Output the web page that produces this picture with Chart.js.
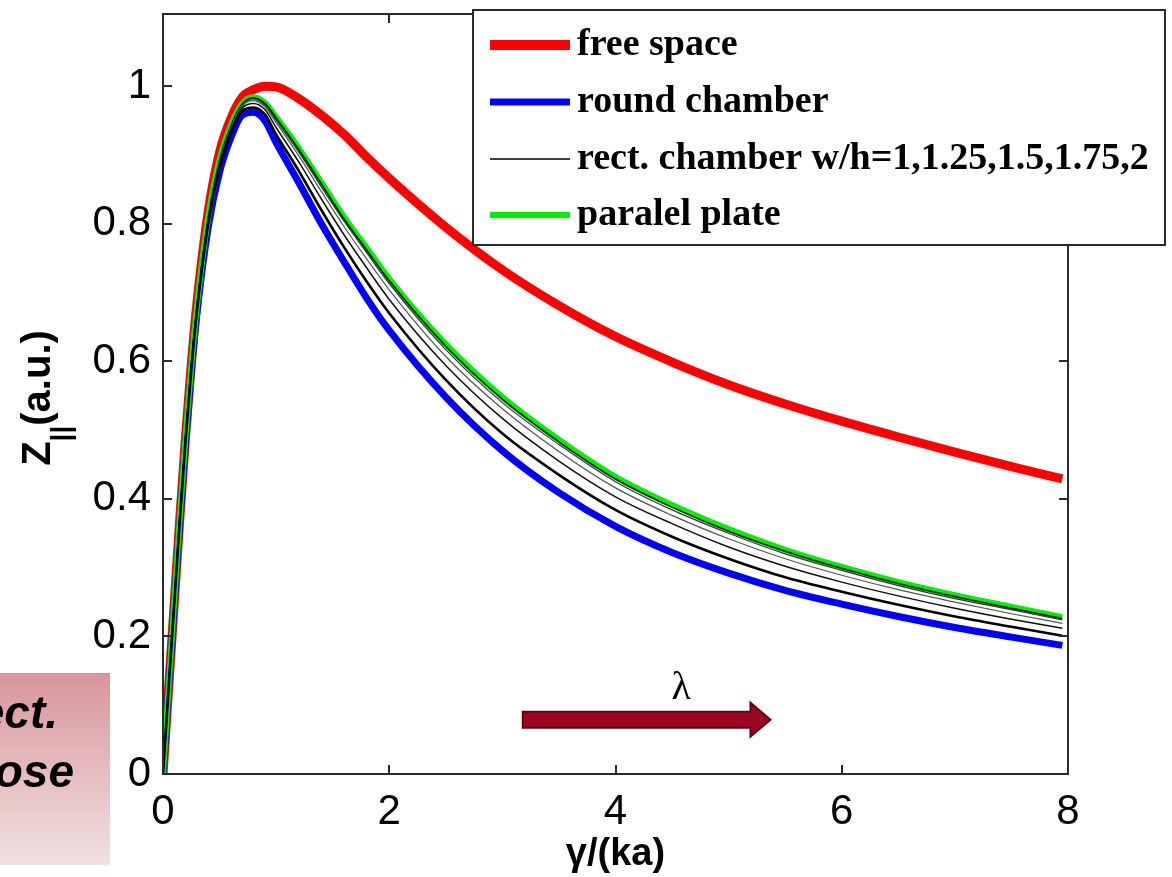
<!DOCTYPE html>
<html>
<head>
<meta charset="utf-8">
<script src="https://cdn.jsdelivr.net/npm/chart.js@4.4.1/dist/chart.umd.min.js"></script>
<style>
  body { margin: 0; background: #fff; }
  #wrap { width: 1172px; height: 877px; }
</style>
</head>
<body>
<div id="wrap"><canvas id="js-impedance-chart" width="1172" height="877"></canvas></div>
<script>
// gamma/(ka) sample points shared by every curve
const gammaOverKa = [0, 0.05, 0.1, 0.15, 0.2, 0.25, 0.3, 0.4, 0.5, 0.6, 0.7, 0.8, 0.9, 1.0, 1.2, 1.4, 1.6, 1.8, 2.0, 2.5, 3.0, 3.5, 4.0, 4.5, 5.0, 5.5, 6.0, 6.5, 7.0, 7.5, 7.95];

// Z|| (a.u.) for each geometry
const freeSpace = [0, 0.125, 0.25, 0.375, 0.492, 0.596, 0.685, 0.818, 0.904, 0.953, 0.984, 0.995, 1.0, 0.999, 0.982, 0.958, 0.930, 0.897, 0.866, 0.795, 0.733, 0.681, 0.636, 0.599, 0.566, 0.538, 0.513, 0.490, 0.468, 0.447, 0.429];
const roundChamber = [0, 0.125, 0.248, 0.37, 0.484, 0.585, 0.67, 0.795, 0.875, 0.925, 0.958, 0.962, 0.95, 0.918, 0.86, 0.80, 0.745, 0.692, 0.645, 0.548, 0.470, 0.409, 0.36, 0.322, 0.292, 0.267, 0.247, 0.229, 0.213, 0.199, 0.187];
const parallelPlate = [0, 0.127, 0.252, 0.377, 0.492, 0.594, 0.68, 0.81, 0.893, 0.943, 0.975, 0.984, 0.976, 0.955, 0.91, 0.86, 0.81, 0.765, 0.72, 0.625, 0.548, 0.486, 0.432, 0.391, 0.356, 0.326, 0.301, 0.279, 0.26, 0.243, 0.228];

// rectangular chamber, one curve per aspect ratio w/h
const rectAspect = ['1', '1.25', '1.5', '1.75', '2'];
const rectChamber = [
  [0, 0.126, 0.249, 0.372, 0.487, 0.588, 0.673, 0.800, 0.881, 0.931, 0.964, 0.969, 0.959, 0.930, 0.877, 0.820, 0.766, 0.716, 0.670, 0.573, 0.495, 0.435, 0.384, 0.345, 0.313, 0.286, 0.265, 0.246, 0.229, 0.214, 0.201],
  [0, 0.126, 0.250, 0.374, 0.489, 0.590, 0.676, 0.804, 0.886, 0.936, 0.968, 0.975, 0.966, 0.940, 0.890, 0.836, 0.784, 0.736, 0.690, 0.594, 0.517, 0.455, 0.403, 0.364, 0.330, 0.302, 0.279, 0.259, 0.241, 0.225, 0.212],
  [0, 0.127, 0.251, 0.376, 0.490, 0.592, 0.678, 0.807, 0.889, 0.939, 0.971, 0.979, 0.970, 0.947, 0.899, 0.847, 0.796, 0.749, 0.704, 0.607, 0.531, 0.469, 0.416, 0.376, 0.342, 0.313, 0.289, 0.268, 0.250, 0.233, 0.219],
  [0, 0.127, 0.252, 0.376, 0.491, 0.593, 0.679, 0.809, 0.891, 0.941, 0.973, 0.982, 0.973, 0.951, 0.905, 0.854, 0.804, 0.758, 0.713, 0.617, 0.540, 0.479, 0.425, 0.384, 0.350, 0.320, 0.296, 0.274, 0.255, 0.239, 0.224],
  [0, 0.127, 0.252, 0.377, 0.492, 0.594, 0.680, 0.809, 0.892, 0.942, 0.974, 0.983, 0.975, 0.954, 0.908, 0.858, 0.807, 0.762, 0.717, 0.622, 0.545, 0.483, 0.429, 0.388, 0.353, 0.324, 0.299, 0.277, 0.258, 0.241, 0.226]
];

// axis ticks
const xTicks = [0, 2, 4, 6, 8];
const xTickLabels = ['0', '2', '4', '6', '8'];
const yTicks = [0, 0.2, 0.4, 0.6, 0.8, 1];
const yTickLabels = ['0', '0.2', '0.4', '0.6', '0.8', '1'];

const legendLabels = ['free space', 'round chamber', 'rect. chamber w/h=1,1.25,1.5,1.75,2', 'paralel plate'];

const toPoints = (ys) => ys.map((y, i) => ({ x: gammaOverKa[i], y: y }));

const rectWidths = [2.6, 1.5, 1.2, 1.2, 1.6];
const rectColors = ['#000000', '#111111', '#555555', '#333333', '#1a1a1a'];

const datasets = [
  { label: 'free space', data: toPoints(freeSpace), borderColor: '#ff0000', borderWidth: 9, order: 8 },
  { label: 'round chamber', data: toPoints(roundChamber), borderColor: '#0000ff', borderWidth: 7, order: 7 },
  { label: 'paralel plate', data: toPoints(parallelPlate), borderColor: '#00ee00', borderWidth: 6, order: 6 }
];
rectChamber.forEach((ys, i) => {
  datasets.push({
    label: 'rect. chamber w/h=' + rectAspect[i],
    data: toPoints(ys),
    borderColor: rectColors[i],
    borderWidth: rectWidths[i],
    order: i
  });
});
datasets.forEach(d => {
  d.pointRadius = 0;
  d.fill = false;
  d.cubicInterpolationMode = 'monotone';
});

const sansFont = '"Liberation Sans", Arial, sans-serif';
const serifFont = '"Liberation Serif", "Times New Roman", serif';

// box with inward ticks, lambda arrow, legend and axis label drawn on the canvas
const decorPlugin = {
  id: 'decor',
  afterDatasetsDraw(chart) {
    const { ctx, chartArea: a, scales: { x, y } } = chart;
    ctx.save();
    ctx.strokeStyle = '#2b2b2b';
    ctx.lineWidth = 2;
    ctx.strokeRect(a.left, a.top, a.right - a.left, a.bottom - a.top);
    const tl = 9;
    ctx.beginPath();
    xTicks.forEach(v => {
      const px = Math.round(x.getPixelForValue(v));
      ctx.moveTo(px, a.bottom); ctx.lineTo(px, a.bottom - tl);
      ctx.moveTo(px, a.top); ctx.lineTo(px, a.top + tl);
    });
    yTicks.forEach(v => {
      const py = Math.round(y.getPixelForValue(v));
      ctx.moveTo(a.left, py); ctx.lineTo(a.left + tl, py);
      ctx.moveTo(a.right, py); ctx.lineTo(a.right - tl, py);
    });
    ctx.stroke();

    // wavelength arrow
    const x0 = x.getPixelForValue(3.18), x1 = x.getPixelForValue(5.37);
    const yc = y.getPixelForValue(0.079);
    ctx.beginPath();
    ctx.moveTo(x0, yc - 8);
    ctx.lineTo(x1 - 20, yc - 8);
    ctx.lineTo(x1 - 20, yc - 17);
    ctx.lineTo(x1, yc);
    ctx.lineTo(x1 - 20, yc + 17);
    ctx.lineTo(x1 - 20, yc + 8);
    ctx.lineTo(x0, yc + 8);
    ctx.closePath();
    ctx.fillStyle = '#9a0820';
    ctx.fill();
    ctx.strokeStyle = '#650012';
    ctx.lineWidth = 2;
    ctx.stroke();
    ctx.fillStyle = '#000';
    ctx.font = '40px ' + serifFont;
    ctx.textAlign = 'center';
    ctx.textBaseline = 'middle';
    ctx.fillText('λ', x.getPixelForValue(4.58), y.getPixelForValue(0.125));
    ctx.restore();
  },
  afterDraw(chart) {
    const { ctx, chartArea: a } = chart;
    ctx.save();

    // legend box
    const lx = 473, ly = 10, lw = 692, lh = 235;
    ctx.fillStyle = '#fff';
    ctx.fillRect(lx, ly, lw, lh);
    ctx.strokeStyle = '#2b2b2b';
    ctx.lineWidth = 2;
    ctx.strokeRect(lx, ly, lw, lh);
    const rows = [45, 102, 159, 215];
    const swatch = [
      { color: '#ff0000', width: 10 },
      { color: '#0000ff', width: 7 },
      { color: '#000000', width: 1.5 },
      { color: '#00ee00', width: 6 }
    ];
    ctx.font = 'bold 38px ' + serifFont;
    ctx.textBaseline = 'middle';
    ctx.textAlign = 'left';
    rows.forEach((ry, i) => {
      ctx.beginPath();
      ctx.strokeStyle = swatch[i].color;
      ctx.lineWidth = swatch[i].width;
      ctx.moveTo(490, ry);
      ctx.lineTo(570, ry);
      ctx.stroke();
      ctx.fillStyle = '#000';
      ctx.fillText(legendLabels[i], 577, ry);
    });

    // y axis label with subscript
    ctx.translate(35, (a.top + a.bottom) / 2 + 4);
    ctx.rotate(-Math.PI / 2);
    ctx.fillStyle = '#000';
    ctx.textBaseline = 'alphabetic';
    const big = 'bold 40px ' + sansFont;
    const small = 'bold 28px ' + sansFont;
    ctx.font = big;
    const wZ = ctx.measureText('Z').width;
    const wRest = ctx.measureText('(a.u.)').width;
    ctx.font = small;
    const wSub = ctx.measureText('||').width;
    let u = -(wZ + wSub + wRest) / 2;
    const base = 15;
    ctx.font = big; ctx.fillText('Z', u, base); u += wZ;
    ctx.font = small; ctx.fillText('||', u, base + 20); u += wSub;
    ctx.font = big; ctx.fillText('(a.u.)', u, base);
    ctx.restore();

    // slide fragment at lower left
    ctx.save();
    const g = ctx.createLinearGradient(0, 673, 0, 865);
    g.addColorStop(0, '#d7969a');
    g.addColorStop(1, '#f2e1e1');
    ctx.fillStyle = g;
    ctx.fillRect(0, 673, 110, 192);
    ctx.fillStyle = '#000';
    ctx.font = 'italic bold 46px ' + sansFont;
    ctx.textAlign = 'right';
    ctx.textBaseline = 'alphabetic';
    ctx.fillText('ect.', 58, 728);
    ctx.fillText('ose', 74, 787);
    ctx.restore();
  }
};

const chartContext = document.getElementById('js-impedance-chart').getContext('2d');

const impedanceChart = new Chart(chartContext, {
  type: 'line',
  data: { datasets: datasets },
  options: {
    responsive: false,
    animation: false,
    layout: { padding: { top: 14, right: 104, left: 0, bottom: 0 } },
    plugins: {
      legend: { display: false },
      tooltip: { enabled: false }
    },
    scales: {
      x: {
        type: 'linear',
        min: 0,
        max: 8,
        grid: { display: false },
        border: { display: false },
        afterBuildTicks: (scale) => { scale.ticks = xTicks.map(v => ({ value: v })); },
        afterFit: (scale) => {
          scale.height = 103;
          scale.paddingLeft = 0;
          scale.paddingRight = 0;
        },
        ticks: {
          color: '#000',
          padding: 5,
          maxRotation: 0,
          font: { family: sansFont, size: 42 },
          callback: (v, i) => xTickLabels[i]
        },
        title: {
          display: true,
          text: 'γ/(ka)',
          color: '#000',
          padding: { top: 0, bottom: 0 },
          font: { family: sansFont, size: 38, weight: 'bold' }
        }
      },
      y: {
        type: 'linear',
        min: 0,
        max: 1.105,
        grid: { display: false },
        border: { display: false },
        afterBuildTicks: (scale) => { scale.ticks = yTicks.map(v => ({ value: v })); },
        afterFit: (scale) => {
          scale.width = 163;
          scale.paddingTop = 0;
          scale.paddingBottom = 0;
        },
        ticks: {
          color: '#000',
          padding: 4,
          font: { family: sansFont, size: 42 },
          callback: (v, i) => yTickLabels[i]
        }
      }
    }
  },
  plugins: [decorPlugin]
});
</script>
</body>
</html>
